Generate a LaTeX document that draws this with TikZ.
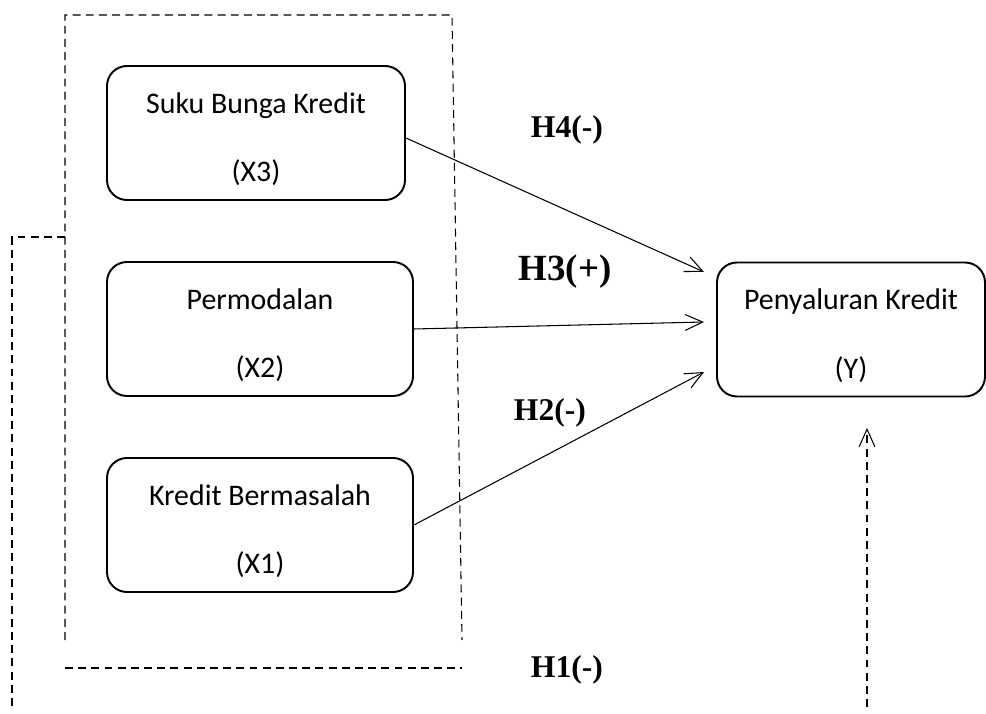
\documentclass[tikz,border=0pt]{standalone}
\usepackage{fontspec}
\setmainfont{Carlito}
\newfontfamily\hypfont{Liberation Serif}
\usepackage{tikz}
\usetikzlibrary{arrows.meta,positioning,calc}
\newcommand{\varlabel}[2]{\rule{0pt}{19pt}#1\\[19pt]#2}

\begin{document}
\begin{tikzpicture}[
  varbox/.style={rectangle, draw, rounded corners=0.4cm, line width=1.1pt, minimum width=6.12cm, minimum height=2.68cm, align=center, font=\fontsize{17}{20}\selectfont},
  hyp/.style={font=\hypfont\bfseries\fontsize{18}{20}\selectfont},
  link/.style={line width=0.6pt, -{Straight Barb[length=10pt,width=9pt]}},
  frame/.style={line width=0.6pt, dash pattern=on 4.5pt off 3pt}
]
\useasboundingbox (0,0) rectangle (19.72,14.26);

% Independent variables
\node[varbox, minimum width=5.96cm] (x3) at (5.12,11.6) {\varlabel{Suku Bunga Kredit}{(X3)}};
\node[varbox] (x2) at (5.2,7.68) {\varlabel{Permodalan}{(X2)}};
\node[varbox] (x1) at (5.2,3.76) {\varlabel{Kredit Bermasalah}{(X1)}};

% Dependent variable
\node[varbox, minimum width=5.36cm] (y) at (17.02,7.67) {\varlabel{Penyaluran Kredit}{(Y)}};

% Arrow targets in front of Y
\coordinate (in3) at ($(y.west)+(-0.24,1.15)$);
\coordinate (in2) at ($(y.west)+(-0.24,0.15)$);
\coordinate (in1) at ($(y.west)+(-0.24,-0.85)$);

% Hypothesis labels
\node[hyp] (h4) at (11.34,11.66) {H4(-)};
\node[hyp, font=\hypfont\bfseries\fontsize{21}{24}\selectfont] (h3) at (11.3,8.82) {H3(+)};
\node[hyp] (h2) at (11.0,6.0) {H2(-)};
\node[hyp] (h1) at (11.34,0.86) {H1(-)};

% Partial effects
\draw[link] ($(x3.east)+(0,-0.1)$) -- (in3);
\draw[link] (x2.east) -- (in2);
\draw[link] (x1.east) -- (in1);

% Simultaneous effect (dashed group)
\coordinate (gbl) at (1.3,1.46);
\coordinate (gtl) at (1.3,13.96);
\coordinate (gtr) at (9.04,13.96);
\coordinate (gbr) at (9.24,1.46);
\draw[frame] (gbl) -- (gtl) -- (gtr) -- (gbr);
\draw[frame] (1.3,0.9) -- (9.24,0.9);
\coordinate (lt) at (1.3,9.52);
\coordinate (lc) at (0.24,9.52);
\coordinate (lb) at (0.24,0.12);
\draw[frame] (lt) -- (lc) -- (lb);
\coordinate (rb) at (17.34,0.12);
\coordinate (rt) at (17.34,5.7);
\draw[frame, -{Straight Barb[length=10pt,width=9pt]}] (rb) -- (rt);

\end{tikzpicture}
\end{document}
